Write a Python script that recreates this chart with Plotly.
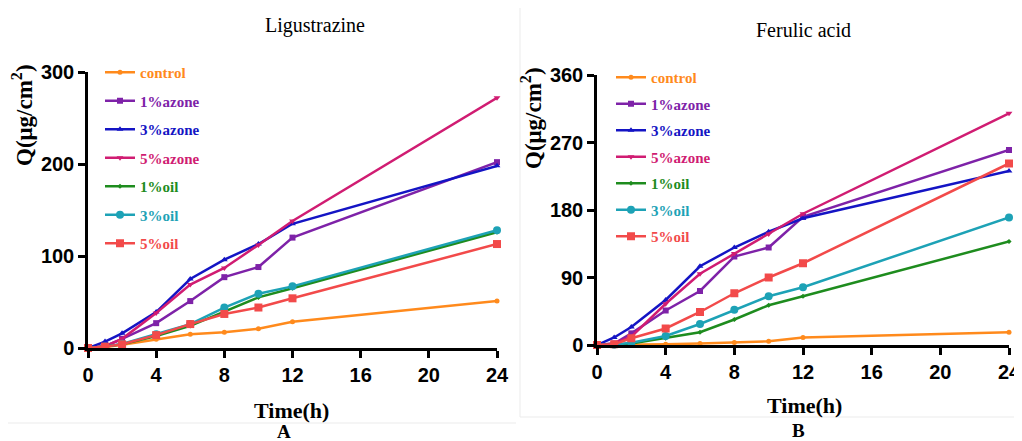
import plotly.graph_objects as go

# ---------------- data ----------------
time_h = [0, 1, 2, 4, 6, 8, 10, 12, 24]
series_names = ["control", "1%azone", "3%azone", "5%azone", "1%oil", "3%oil", "5%oil"]

# Ligustrazine (panel A)
lig_control = [0, 1, 3.6, 9.4, 15, 17, 21, 28.5, 51]
lig_azone1 = [0, 2, 10, 27, 51, 77, 88, 120, 202]
lig_azone3 = [0, 7, 16, 39, 75, 96, 113, 135, 198]
lig_azone5 = [0, 2, 10, 38, 69, 87, 112, 138, 272]
lig_oil1 = [0, 1.5, 4, 13, 24, 39.5, 55, 65, 126]
lig_oil3 = [0, 1.5, 4.5, 15, 26, 44, 59, 67, 128]
lig_oil5 = [0, 1.5, 4, 14, 26, 37, 44, 54, 113]

# Ferulic acid (panel B)
fer_control = [0, 0, 0.5, 1, 2, 3.5, 5, 10, 17]
fer_azone1 = [0, 2, 15.5, 46, 72, 118, 130, 171, 260]
fer_azone3 = [0, 10, 24, 60, 105, 130, 151, 169, 232]
fer_azone5 = [0, 2, 11, 55, 95, 122, 148, 175, 309]
fer_oil1 = [0, 0.5, 2, 9, 17, 34, 53, 65, 138]
fer_oil3 = [0, 0.5, 3, 12, 28, 47, 65, 77, 170]
fer_oil5 = [0, 1, 9, 22, 44, 69, 90, 109, 242]

x_ticks = [0, 4, 8, 12, 16, 20, 24]
lig_y_ticks = [0, 100, 200, 300]
fer_y_ticks = [0, 90, 180, 270, 360]

# ---------------- styles ----------------
colors = ["#FF8A1C", "#7E22A8", "#1414C4", "#D01C72", "#1E8C1E", "#1DA2B6", "#F24A4A"]
symbols = ["circle", "square", "triangle-up", "triangle-down", "diamond", "circle", "square"]
msizes = [5, 6, 6, 6, 4, 8, 8]

# page has an 8px body margin: figure is drawn 8px in from the window corner
OFF = 8
W, H = 1022 - OFF, 441 - OFF
SERIF = "Liberation Serif"
SANS = "Liberation Sans"

fig = go.Figure()

lig = [lig_control, lig_azone1, lig_azone3, lig_azone5, lig_oil1, lig_oil3, lig_oil5]
fer = [fer_control, fer_azone1, fer_azone3, fer_azone5, fer_oil1, fer_oil3, fer_oil5]

for i, name in enumerate(series_names):
    label = f"<b><span style='color:{colors[i]}'>{name}</span></b>"
    fig.add_trace(go.Scatter(
        x=time_h, y=lig[i], mode="lines+markers", name=label,
        line=dict(color=colors[i], width=2.5),
        marker=dict(symbol=symbols[i], size=msizes[i], color=colors[i]),
        xaxis="x", yaxis="y", legend="legend", legendgroup=f"a{i}",
        cliponaxis=False,
    ))
for i, name in enumerate(series_names):
    label = f"<b><span style='color:{colors[i]}'>{name}</span></b>"
    fig.add_trace(go.Scatter(
        x=time_h, y=fer[i], mode="lines+markers", name=label,
        line=dict(color=colors[i], width=2.5),
        marker=dict(symbol=symbols[i], size=msizes[i], color=colors[i]),
        xaxis="x2", yaxis="y2", legend="legend2", legendgroup=f"b{i}",
        cliponaxis=False,
    ))

def px_x(p):
    return (p - OFF) / W

def px_y(p):
    return 1 - (p - OFF) / H

axis_common = dict(
    showline=True, linecolor="black", linewidth=2.5, mirror=False,
    ticks="outside", ticklen=7, tickwidth=2.5, tickcolor="black",
    showgrid=False, zeroline=False, automargin=False,
    tickfont=dict(family=SANS, size=20, color="black", weight="bold"),
)

fig.update_layout(
    width=W, height=H,
    margin=dict(l=0, r=0, t=0, b=0, autoexpand=False),
    paper_bgcolor="white", plot_bgcolor="white",
    showlegend=True,
    xaxis=dict(domain=[px_x(88), px_x(497)], range=[0, 24], tickvals=x_ticks,
               anchor="y", **axis_common),
    yaxis=dict(domain=[px_y(348), px_y(72)], range=[0, 300], tickvals=lig_y_ticks,
               anchor="x", **axis_common),
    xaxis2=dict(domain=[px_x(597), px_x(1009)], range=[0, 24], tickvals=x_ticks,
                anchor="y2", **axis_common),
    yaxis2=dict(domain=[px_y(345), px_y(75)], range=[0, 360], tickvals=fer_y_ticks,
                anchor="x2", **axis_common),
    legend=dict(x=px_x(100), y=px_y(56), xanchor="left", yanchor="top",
                bgcolor="rgba(0,0,0,0)", tracegroupgap=6,
                font=dict(family=SERIF, size=15)),
    legend2=dict(x=px_x(611), y=px_y(61), xanchor="left", yanchor="top",
                 bgcolor="rgba(0,0,0,0)", tracegroupgap=4,
                 font=dict(family=SERIF, size=15)),
)

# faint borders of the two pasted panels
border = dict(color="#ebebeb", width=1)
fig.add_shape(type="line", xref="paper", yref="paper",
              x0=px_x(8), x1=px_x(516), y0=px_y(423), y1=px_y(423), line=border)
fig.add_shape(type="line", xref="paper", yref="paper",
              x0=px_x(520), x1=px_x(1022), y0=px_y(417), y1=px_y(417), line=border)
fig.add_shape(type="line", xref="paper", yref="paper",
              x0=px_x(520), x1=px_x(520), y0=px_y(8), y1=px_y(417), line=border)

annos = [
    dict(text="Ligustrazine", x=315, y=25, size=20, bold=False, angle=0),
    dict(text="Ferulic acid", x=803, y=30, size=20, bold=False, angle=0),
    dict(text="Time(h)", x=291, y=410, size=22, bold=True, angle=0),
    dict(text="Time(h)", x=804, y=405, size=22, bold=True, angle=0),
    dict(text="A", x=284, y=431, size=19, bold=True, angle=0),
    dict(text="B", x=798, y=430, size=19, bold=True, angle=0),
    dict(text="Q(μg/cm<sup>2</sup>)", x=23, y=115, size=23, bold=True, angle=-90),
    dict(text="Q(μg/cm<sup>2</sup>)", x=532, y=118, size=23, bold=True, angle=-90),
]
for a in annos:
    txt = f"<b>{a['text']}</b>" if a["bold"] else a["text"]
    fig.add_annotation(text=txt, x=px_x(a["x"]), y=px_y(a["y"]), xref="paper", yref="paper",
                       xanchor="center", yanchor="middle", showarrow=False,
                       textangle=a["angle"],
                       font=dict(family=SERIF, size=a["size"], color="black"))

fig.write_html("out.html")
